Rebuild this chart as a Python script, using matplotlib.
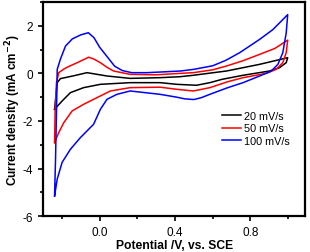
import matplotlib
matplotlib.use("Agg")
import matplotlib.pyplot as plt
from matplotlib.ticker import MultipleLocator

plt.rcParams['font.family'] = ['Liberation Sans', 'DejaVu Sans']
plt.rcParams['axes.unicode_minus'] = False

labels = ['20 mV/s', '50 mV/s', '100 mV/s']
colors = ['black', 'red', 'blue']

# 20 mV/s: forward sweep then return sweep
x20 = [-0.239, -0.225, -0.208, -0.137, -0.067, 0.039, 0.162, 0.321, 0.426, 0.497, 0.673, 0.849, 0.998,
       0.99, 0.955, 0.902, 0.761, 0.65, 0.585, 0.514, 0.409, 0.321, 0.162, 0.004, -0.085, -0.155, -0.199, -0.239]
y20 = [-1.51, -0.39, -0.22, -0.1, 0.03, -0.11, -0.21, -0.18, -0.14, -0.08, 0.1, 0.38, 0.66,
       0.45, 0.24, 0.1, -0.08, -0.25, -0.39, -0.5, -0.46, -0.39, -0.39, -0.46, -0.6, -0.81, -1.16, -1.51]

# 50 mV/s
x50 = [-0.239, -0.236, -0.229, -0.217, -0.19, -0.172, -0.119, -0.058, -0.03, 0.004, 0.04, 0.074, 0.162, 0.3,
       0.426, 0.497, 0.6, 0.673, 0.76, 0.849, 0.93, 0.998,
       0.99, 0.972, 0.937, 0.884, 0.761, 0.68, 0.585, 0.497, 0.409, 0.321, 0.162, 0.057, -0.032, -0.085,
       -0.146, -0.19, -0.217, -0.239]
y50 = [-2.91, -1.51, -0.39, 0.03, 0.18, 0.26, 0.45, 0.68, 0.6, 0.45, 0.25, 0.1, -0.04, -0.06,
       0.0, 0.03, 0.15, 0.31, 0.53, 0.8, 1.05, 1.4,
       0.87, 0.45, 0.17, 0.0, -0.18, -0.35, -0.6, -0.74, -0.67, -0.58, -0.6, -0.74, -1.09, -1.3,
       -1.58, -2.07, -2.49, -2.91]

# 100 mV/s
x100 = [-0.239, -0.234, -0.228, -0.225, -0.208, -0.181, -0.145, -0.1, -0.06, -0.03, 0.0, 0.04, 0.08, 0.12,
        0.17, 0.25, 0.33, 0.43, 0.5, 0.6, 0.67, 0.743, 0.849, 0.919, 0.998,
        0.99, 0.972, 0.946, 0.911, 0.849, 0.761, 0.68, 0.585, 0.54, 0.5, 0.45, 0.409, 0.32,
        0.162, 0.092, 0.039, 0.004, -0.032, -0.067, -0.102, -0.155, -0.199, -0.225, -0.239]
y100 = [-5.15, -3.6, -1.2, 0.17, 0.6, 1.15, 1.45, 1.62, 1.71, 1.5, 1.1, 0.7, 0.3, 0.12,
        0.03, 0.03, 0.06, 0.1, 0.17, 0.32, 0.55, 0.87, 1.43, 1.84, 2.47,
        1.7, 0.87, 0.38, 0.1, -0.11, -0.39, -0.6, -0.88, -1.02, -1.1, -1.07, -1.0, -0.88,
        -0.74, -0.88, -1.09, -1.51, -2.14, -2.42, -2.7, -3.19, -3.74, -4.44, -5.15]

xs = [x20, x50, x100]
ys = [y20, y50, y100]

fig = plt.figure(figsize=(3.1, 2.53), dpi=100)
ax = fig.add_axes([0.139, 0.142, 0.845, 0.846])

for x, y, c, lab in zip(xs, ys, colors, labels):
    ax.plot(x, y, color=c, lw=1.1, label=lab)

ax.set_xlim(-0.3, 1.09)
ax.set_ylim(-6, 3)
ax.xaxis.set_minor_locator(MultipleLocator(0.2))
ax.yaxis.set_major_locator(MultipleLocator(2))
ax.yaxis.set_minor_locator(MultipleLocator(1))
ax.set_xticks([0.0, 0.4, 0.8])
ax.set_xticklabels(['0.0', '0.4', '0.8'])
ax.tick_params(which='both', direction='out', width=1.2, labelsize=8.5)
ax.tick_params(which='major', length=3.5)
ax.tick_params(which='minor', length=2)
for s in ax.spines.values():
    s.set_linewidth(1.6)

ax.set_xlabel('Potential /V, vs. SCE', fontsize=8.7, fontweight='bold', labelpad=1)
ax.set_ylabel('Current density (mA cm$^{\\mathbf{-2}}$)', fontsize=8.5, fontweight='bold', labelpad=0)

ax.legend(loc='upper left', bbox_to_anchor=(0.665, 0.51), frameon=False, fontsize=7.8,
          handlelength=1.8, handletextpad=0.3, labelspacing=0.2, borderaxespad=0)

fig.savefig('out.png', dpi=100)
